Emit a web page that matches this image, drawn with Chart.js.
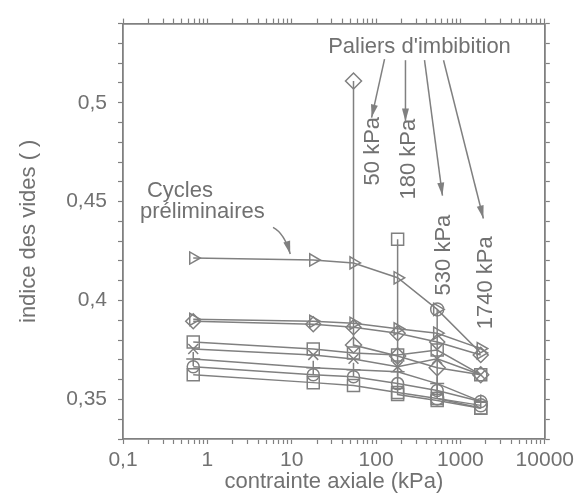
<!DOCTYPE html>
<html>
<head>
<meta charset="utf-8">
<script src="https://cdn.jsdelivr.net/npm/chart.js@4/dist/chart.umd.min.js"></script>
<style>
  html, body { margin: 0; padding: 0; background: #fff; }
</style>
</head>
<body>
<canvas id="chart" width="578" height="501"></canvas>
<script>
// axial stress levels (kPa) of the loading steps
const pressures = [0.68, 18, 54, 180, 530, 1740];

// void ratio along each loading cycle
const cycleA = [0.4215, 0.4205, 0.419, 0.4115, 0.3955, 0.3735];
const cycleB = [0.3905, 0.3895, 0.3885, 0.3857, 0.3835, 0.3757];
const cycleC = [0.3895, 0.388, 0.3865, 0.3835, 0.379, 0.3725];
const cycleD = [0.379, 0.3755, 0.3735, 0.3725, 0.375, 0.3625];
const cycleE = [0.3755, 0.3725, 0.3705, 0.3665, 0.3705, 0.3625];
const cycleF = [0.3705, 0.366, 0.365, 0.364, 0.358, 0.349];
const cycleG = [0.3665, 0.3625, 0.3615, 0.358, 0.3545, 0.349];
const cycleH = [0.3625, 0.3585, 0.357, 0.3535, 0.3505, 0.3457];

// imbibition steps (wetting at constant stress, then loading)
const palier50X = [54, 54, 180, 530, 1740];
const palier50Y = [0.511, 0.3775, 0.372, 0.366, 0.3625];
const palier180X = [180, 180, 530, 1740];
const palier180Y = [0.431, 0.3525, 0.3495, 0.3455];
const palier530X = [530, 530, 1740];
const palier530Y = [0.3955, 0.3505, 0.347];

const xTickValues = [0.1, 1, 10, 100, 1000, 10000];
const xTickLabels = ['0,1', '1', '10', '100', '1000', '10000'];
const yTickValues = [0.35, 0.4, 0.45, 0.5];
const yTickLabels = ['0,35', '0,4', '0,45', '0,5'];

const ink = '#808080';
const textInk = '#717171';
const family = '"Liberation Sans", Arial, Helvetica, sans-serif';

const pts = (xs, ys) => xs.map((v, i) => ({x: v, y: ys[i]}));

function series(xs, ys, style, radius, rotation) {
    return {
        data: pts(xs, ys),
        borderColor: ink,
        borderWidth: 1.5,
        pointStyle: style,
        pointRadius: radius,
        pointRotation: rotation || 0,
        pointBorderColor: ink,
        pointBorderWidth: 1.5,
        pointBackgroundColor: 'rgba(255,255,255,0)',
        tension: 0
    };
}

const datasets = [
    series(pressures, cycleA, 'triangle', 7, 90),
    series(pressures, cycleB, 'triangle', 7, 90),
    series(pressures, cycleC, 'rectRot', 7.5),
    series(pressures, cycleD, 'rect', 8.5),
    series(pressures, cycleE, 'crossRot', 7),
    series(pressures, cycleF, 'cross', 7),
    series(pressures, cycleG, 'circle', 6),
    series(pressures, cycleH, 'rect', 8.5),
    series(palier50X, palier50Y, 'rectRot', 8),
    series(palier180X, palier180Y, 'rect', 8.5),
    series(palier530X, palier530Y, 'circle', 6.5)
];

// text notes, anchored in data coordinates
const notes = [
    {text: "Paliers d'imbibition", at: [327, 0.528], align: 'center'},
    {text: 'Cycles', at: [0.192, 0.4555], align: 'left'},
    {text: 'préliminaires', at: [0.159, 0.445], align: 'left'},
    {text: '50 kPa', at: [93, 0.4755], vertical: true},
    {text: '180 kPa', at: [243, 0.4715], vertical: true},
    {text: '530 kPa', at: [630, 0.423], vertical: true},
    {text: '1740 kPa', at: [2032, 0.409], vertical: true}
];

const arrows = [
    {from: [126, 0.522], to: [88.5, 0.4925]},
    {from: [223, 0.5215], to: [223, 0.4905]},
    {from: [375, 0.5215], to: [612, 0.453]},
    {from: [630, 0.5215], to: [1870, 0.4415]},
    {from: [6.0, 0.437], to: [9.6, 0.4235], ctrl: [8.2, 0.434]}
];

function logTicksOnly(scale) {
    scale.ticks = scale.ticks.filter(t => {
        const m = t.value / Math.pow(10, Math.floor(Math.log10(t.value) + 1e-9));
        return Math.abs(m - Math.round(m)) < 1e-6;
    });
}

function labelFor(values, labels, v, tol) {
    const i = values.findIndex(t => Math.abs(t - v) < tol);
    return i === -1 ? '' : labels[i];
}

const annotate = {
    id: 'annotate',
    afterDatasetsDraw(chart) {
        const {ctx, scales: {x, y}} = chart;
        ctx.save();
        ctx.fillStyle = textInk;
        ctx.strokeStyle = ink;
        ctx.lineWidth = 1.5;
        ctx.font = '22px ' + family;
        notes.forEach(n => {
            ctx.save();
            ctx.translate(x.getPixelForValue(n.at[0]), y.getPixelForValue(n.at[1]));
            if (n.vertical) ctx.rotate(-Math.PI / 2);
            ctx.textAlign = n.align || 'center';
            ctx.textBaseline = 'middle';
            ctx.fillText(n.text, 0, 0);
            ctx.restore();
        });
        ctx.fillStyle = ink;
        arrows.forEach(a => {
            const x0 = x.getPixelForValue(a.from[0]), y0 = y.getPixelForValue(a.from[1]);
            const x1 = x.getPixelForValue(a.to[0]), y1 = y.getPixelForValue(a.to[1]);
            let cx = x0, cy = y0;
            ctx.beginPath();
            ctx.moveTo(x0, y0);
            if (a.ctrl) {
                cx = x.getPixelForValue(a.ctrl[0]);
                cy = y.getPixelForValue(a.ctrl[1]);
                ctx.quadraticCurveTo(cx, cy, x1, y1);
            } else {
                ctx.lineTo(x1, y1);
            }
            ctx.stroke();
            const ang = Math.atan2(y1 - cy, x1 - cx);
            const L = 13, W = 3.5;
            ctx.beginPath();
            ctx.moveTo(x1, y1);
            ctx.lineTo(x1 - L * Math.cos(ang) + W * Math.sin(ang), y1 - L * Math.sin(ang) - W * Math.cos(ang));
            ctx.lineTo(x1 - L * Math.cos(ang) - W * Math.sin(ang), y1 - L * Math.sin(ang) + W * Math.cos(ang));
            ctx.closePath();
            ctx.fill();
        });
        ctx.restore();
    }
};

const axisGrid = {drawOnChartArea: false, tickLength: 5, tickColor: ink, tickWidth: 1.2};
const axisBorder = {color: ink, width: 1.8};

new Chart(document.getElementById('chart'), {
    type: 'line',
    data: {datasets},
    plugins: [annotate],
    options: {
        responsive: false,
        animation: false,
        layout: {padding: 0},
        plugins: {legend: {display: false}, tooltip: {enabled: false}},
        scales: {
            x: {
                type: 'logarithmic', position: 'bottom', min: 0.1, max: 10000,
                grid: axisGrid, border: axisBorder,
                afterBuildTicks: logTicksOnly,
                afterFit: s => { s.height = 62; },
                ticks: {
                    autoSkip: false, maxRotation: 0, padding: 4, color: textInk,
                    font: {family, size: 21},
                    callback: v => labelFor(xTickValues, xTickLabels, v, v * 1e-6)
                },
                title: {display: true, text: 'contrainte axiale (kPa)', color: textInk,
                    font: {family, size: 22}, padding: {top: 0, bottom: 6}}
            },
            x2: {
                type: 'logarithmic', position: 'top', min: 0.1, max: 10000,
                grid: axisGrid, border: axisBorder,
                afterBuildTicks: logTicksOnly,
                afterFit: s => { s.height = 19; },
                ticks: {display: false, autoSkip: false}
            },
            y: {
                type: 'linear', position: 'left', min: 0.33, max: 0.54,
                grid: axisGrid, border: axisBorder,
                afterFit: s => { s.width = 123; },
                ticks: {
                    stepSize: 0.01, autoSkip: false, maxTicksLimit: 100, padding: 11,
                    color: textInk, font: {family, size: 21},
                    callback: v => labelFor(yTickValues, yTickLabels, v, 1e-4)
                },
                title: {display: true, text: 'indice des vides ( )', color: textInk,
                    font: {family, size: 22}, padding: {top: 16, bottom: 0}}
            },
            y2: {
                type: 'linear', position: 'right', min: 0.33, max: 0.54,
                grid: axisGrid, border: axisBorder,
                afterFit: s => { s.width = 33; },
                ticks: {display: false, stepSize: 0.01, autoSkip: false, maxTicksLimit: 100}
            }
        }
    }
});
</script>
</body>
</html>
